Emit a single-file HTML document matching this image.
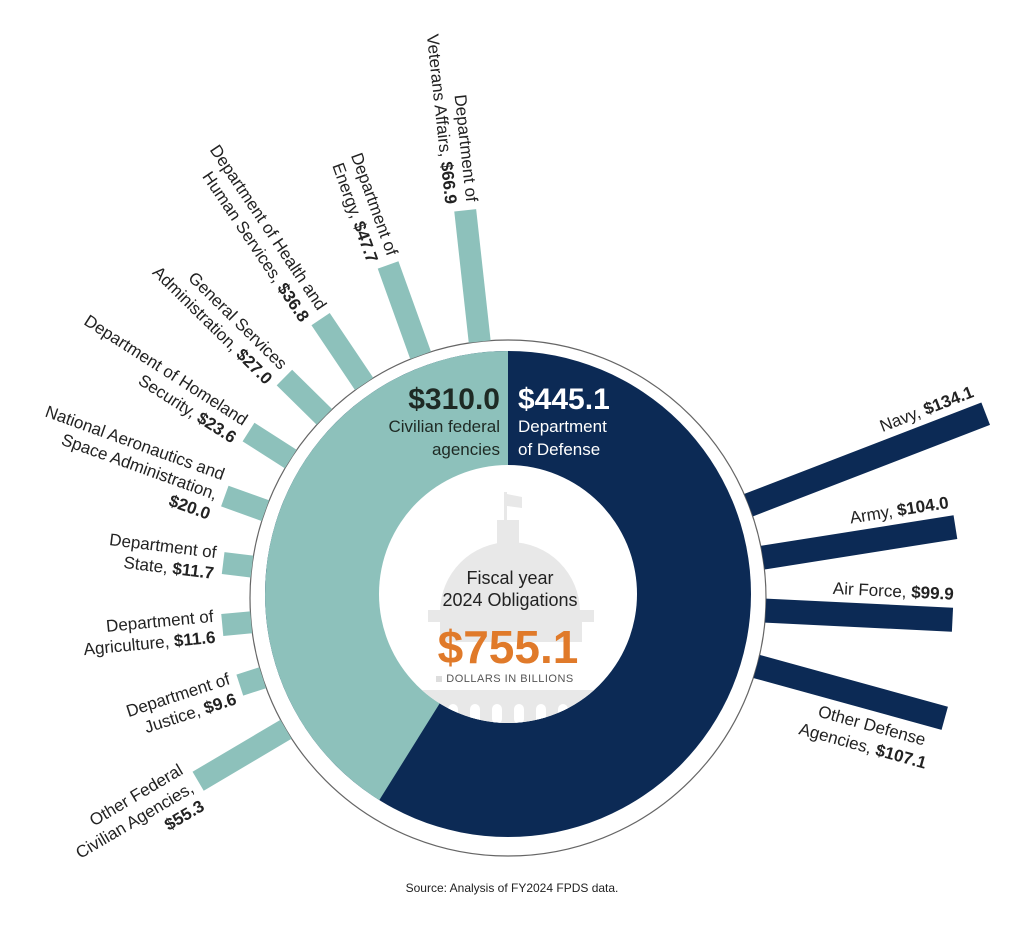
<!DOCTYPE html>
<html><head><meta charset="utf-8"><style>
html,body{margin:0;padding:0;background:#fff}
svg{display:block}
text{font-family:"Liberation Sans",sans-serif;fill:#222}
.b{font-weight:bold}
</style></head><body>
<svg width="1024" height="930" viewBox="0 0 1024 930" xmlns="http://www.w3.org/2000/svg">
<defs><clipPath id="cc"><circle cx="508" cy="594" r="129"/></clipPath></defs>
<!-- outer circle -->
<circle cx="508" cy="598" r="258" fill="none" stroke="#666" stroke-width="1.2"/>
<!-- donut: navy full then teal wedge -->
<circle cx="508" cy="594" r="243" fill="#0c2a55"/>
<path d="M508,594 L508,351 A243,243 0 0 0 379.3,800.1 Z" fill="#8dc1bb"/>
<circle cx="508" cy="594" r="129" fill="#fff"/>
<!-- capitol -->
<g clip-path="url(#cc)" fill="#e8e8e8">
<rect x="504" y="492" width="3" height="30"/>
<path d="M507,494 L522,497 L522,508 L507,506 Z"/>
<rect x="497" y="520" width="22" height="26"/>
<path d="M440,612 A70,70 0 0 1 580,612 Z"/>
<rect x="428" y="610" width="166" height="12"/>
<rect x="440" y="622" width="142" height="20"/>
<rect x="400" y="690" width="220" height="40"/>
</g>
<g clip-path="url(#cc)" fill="#fff">
<rect x="448" y="704" width="10" height="20" rx="5"/><rect x="470" y="704" width="10" height="20" rx="5"/>
<rect x="492" y="704" width="10" height="20" rx="5"/><rect x="514" y="704" width="10" height="20" rx="5"/>
<rect x="536" y="704" width="10" height="20" rx="5"/><rect x="558" y="704" width="10" height="20" rx="5"/>
</g>
<rect x="436" y="676" width="6" height="6" fill="#ddd"/>
<text x="510" y="584" text-anchor="middle" font-size="18" fill="#333">Fiscal year</text>
<text x="510" y="606" text-anchor="middle" font-size="18" fill="#333">2024 Obligations</text>
<text x="508" y="663" text-anchor="middle" font-size="46" class="b" style="fill:#e07a2a">$755.1</text>
<text x="510" y="682" text-anchor="middle" font-size="11" style="fill:#555" letter-spacing="0.5">DOLLARS IN BILLIONS</text>
<!-- center top labels -->
<text x="500" y="409" text-anchor="end" font-size="30" class="b" style="fill:#1e2a24">$310.0</text>
<text x="500" y="432" text-anchor="end" font-size="17" style="fill:#1e2a24">Civilian federal</text>
<text x="500" y="455" text-anchor="end" font-size="17" style="fill:#1e2a24">agencies</text>
<text x="518" y="409" font-size="30" class="b" style="fill:#fff">$445.1</text>
<text x="518" y="432" font-size="17" style="fill:#fff">Department</text>
<text x="518" y="455" font-size="17" style="fill:#fff">of Defense</text>

<!-- left bars: rotate(theta) group, bar from r=258 to rEnd -->
<g font-size="17">
<g transform="translate(508,598) rotate(-6.3)"><rect x="-11" y="-390" width="22" height="132" fill="#8dc1bb"/>
<text transform="rotate(90)" text-anchor="end" x="-398" y="-2">Department of</text>
<text transform="rotate(90)" text-anchor="end" x="-398" y="19">Veterans Affairs, <tspan class="b">$66.9</tspan></text></g>
<g transform="translate(508,598) rotate(-19.8)"><rect x="-11" y="-354" width="22" height="96" fill="#8dc1bb"/>
<text transform="rotate(90)" text-anchor="end" x="-362" y="-2">Department of</text>
<text transform="rotate(90)" text-anchor="end" x="-362" y="19">Energy, <tspan class="b">$47.7</tspan></text></g>
<g transform="translate(508,598) rotate(-33.9)"><rect x="-11" y="-336" width="22" height="78" fill="#8dc1bb"/>
<text transform="rotate(90)" text-anchor="end" x="-344" y="-2">Department of Health and</text>
<text transform="rotate(90)" text-anchor="end" x="-344" y="19">Human Services, <tspan class="b">$36.8</tspan></text></g>
<g transform="translate(508,598) rotate(-45.4)"><rect x="-11" y="-314" width="22" height="56" fill="#8dc1bb"/>
<text transform="rotate(90)" text-anchor="end" x="-322" y="-2">General Services</text>
<text transform="rotate(90)" text-anchor="end" x="-322" y="19">Administration, <tspan class="b">$27.0</tspan></text></g>
<g transform="translate(508,598) rotate(-57.4)"><rect x="-11" y="-308" width="22" height="50" fill="#8dc1bb"/>
<text transform="rotate(90)" text-anchor="end" x="-316" y="-2">Department of Homeland</text>
<text transform="rotate(90)" text-anchor="end" x="-316" y="19">Security, <tspan class="b">$23.6</tspan></text></g>
<g transform="translate(508,598) rotate(-70.2)"><rect x="-11" y="-301" width="22" height="43" fill="#8dc1bb"/>
<text transform="rotate(90)" text-anchor="end" x="-309" y="-14">National Aeronautics and</text>
<text transform="rotate(90)" text-anchor="end" x="-309" y="7">Space Administration,</text>
<text transform="rotate(90)" text-anchor="end" x="-309" y="28" class="b">$20.0</text></g>
<g transform="translate(508,598) rotate(-83)"><rect x="-11" y="-287" width="22" height="29" fill="#8dc1bb"/>
<text transform="rotate(90)" text-anchor="end" x="-295" y="-4">Department of</text>
<text transform="rotate(90)" text-anchor="end" x="-295" y="17">State, <tspan class="b">$11.7</tspan></text></g>
<g transform="translate(508,598) rotate(-95.4)"><rect x="-11" y="-287" width="22" height="29" fill="#8dc1bb"/>
<text transform="rotate(90)" text-anchor="end" x="-295" y="-4">Department of</text>
<text transform="rotate(90)" text-anchor="end" x="-295" y="17">Agriculture, <tspan class="b">$11.6</tspan></text></g>
<g transform="translate(508,598) rotate(-108)"><rect x="-11" y="-282" width="22" height="24" fill="#8dc1bb"/>
<text transform="rotate(90)" text-anchor="end" x="-290" y="-4">Department of</text>
<text transform="rotate(90)" text-anchor="end" x="-290" y="17">Justice, <tspan class="b">$9.6</tspan></text></g>
<g transform="translate(508,598) rotate(-120.6)"><rect x="-11" y="-360" width="22" height="102" fill="#8dc1bb"/>
<text transform="rotate(90)" text-anchor="end" x="-368" y="-14">Other Federal</text>
<text transform="rotate(90)" text-anchor="end" x="-368" y="7">Civilian Agencies,</text>
<text transform="rotate(90)" text-anchor="end" x="-368" y="28" class="b">$55.3</text></g>

<!-- right bars -->
<g transform="translate(508,598) rotate(68.9)"><rect x="-12" y="-512" width="24" height="254" fill="#0c2a55"/>
<text transform="rotate(-90)" text-anchor="end" x="508" y="-20">Navy, <tspan class="b">$134.1</tspan></text></g>
<g transform="translate(508,598) rotate(81)"><rect x="-12" y="-453" width="24" height="195" fill="#0c2a55"/>
<text transform="rotate(-90)" text-anchor="end" x="450" y="-20">Army, <tspan class="b">$104.0</tspan></text></g>
<g transform="translate(508,598) rotate(92.8)"><rect x="-12" y="-445" width="24" height="187" fill="#0c2a55"/>
<text transform="rotate(-90)" text-anchor="end" x="445" y="-20">Air Force, <tspan class="b">$99.9</tspan></text></g>
<g transform="translate(508,598) rotate(105.4)"><rect x="-12" y="-453" width="24" height="195" fill="#0c2a55"/>
<text transform="rotate(-90)" text-anchor="end" x="440" y="32">Other Defense</text>
<text transform="rotate(-90)" text-anchor="end" x="447" y="54">Agencies,  <tspan class="b">$107.1</tspan></text></g>
</g>

<text x="512" y="892" text-anchor="middle" font-size="12" fill="#333">Source: Analysis of FY2024 FPDS data.</text>
</svg>
</body></html>
